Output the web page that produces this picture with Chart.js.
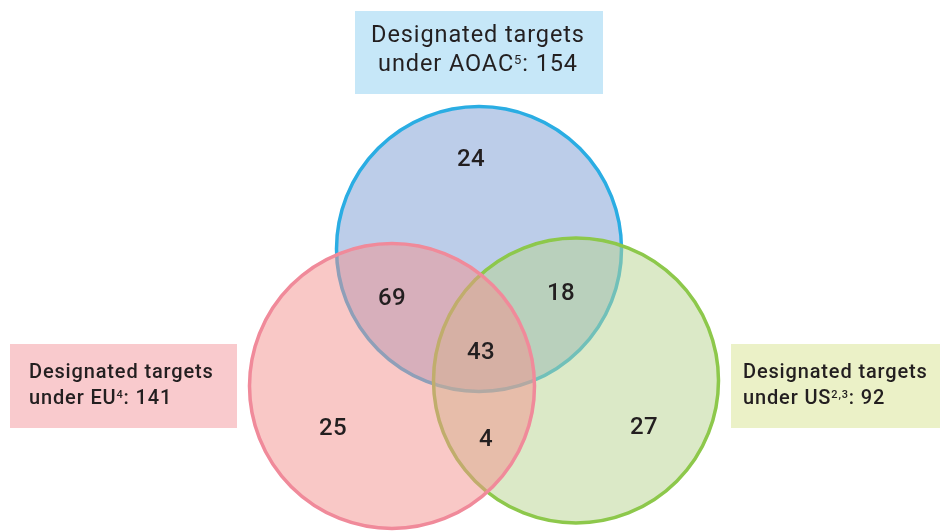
<!DOCTYPE html>
<html>
<head>
<meta charset="utf-8">
<script src="https://cdn.jsdelivr.net/npm/chart.js@4"></script>
<style>
  html, body { margin: 0; padding: 0; background: #ffffff; }
  #wrap { width: 940px; height: 532px; position: relative; }
</style>
</head>
<body>
<div id="wrap"><canvas id="c" width="940" height="532"></canvas></div>
<script>
// ---- data ----
const setNames = ['AOAC', 'EU', 'US'];
const setTotals = [154, 141, 92];
const setRefs = ['5', '4', '2,3'];
const regionNames = ['AOAC only', 'AOAC & EU', 'AOAC & US', 'All three', 'EU only', 'EU & US', 'US only'];
const regionCounts = [24, 69, 18, 43, 25, 4, 27];

// ---- layout (plot units = canvas pixels on hidden linear scales) ----
const circleCenters = { AOAC: [479, 249], EU: [392, 386], US: [576, 380.5] };
const regionLabelPos = [[471, 160], [392, 299], [561, 294], [481, 353], [333, 429], [486, 440], [644, 428]];
const boxes = {
  AOAC: { x: 355, y: 11, w: 248, h: 83, fill: '#c6e7f8', align: 'center', tx: 478, lines: [42, 71], font: '400 23.5px Roboto', sup: '400 13px Roboto', supRise: 7, spacing: '0.9px' },
  EU:   { x: 10, y: 344, w: 227, h: 84, fill: '#f9cacd', align: 'left', tx: 29, lines: [378, 404], font: '500 20px Roboto', sup: '500 11px Roboto', supRise: 6.5, spacing: '0.85px' },
  US:   { x: 731, y: 344, w: 209, h: 84, fill: '#ebf1c7', align: 'left', tx: 743, lines: [378, 404], font: '500 20px Roboto', sup: '500 11px Roboto', supRise: 6.5, spacing: '0.85px' }
};
const styles = {
  AOAC: { fill: 'rgba(121,155,211,0.5)', stroke: '#2aade3', order: 2 },
  EU:   { fill: 'rgba(243,145,141,0.5)', stroke: '#f08a9a', order: 0 },
  US:   { fill: 'rgba(183,211,143,0.5)', stroke: '#8dc84b', order: 1 }
};
const circleRadius = 142.5;

const datasets = setNames.map(n => ({
  label: n,
  data: [{ x: circleCenters[n][0], y: circleCenters[n][1] }],
  pointRadius: circleRadius,
  pointHoverRadius: circleRadius,
  backgroundColor: styles[n].fill,
  borderColor: styles[n].stroke,
  borderWidth: 3.5,
  order: styles[n].order,
  clip: false
}));

const overlayPlugin = {
  id: 'overlay',
  afterDatasetsDraw(chart) {
    const ctx = chart.ctx;
    const xs = chart.scales.x, ys = chart.scales.y;
    ctx.save();
    // region counts
    ctx.fillStyle = '#231f20';
    ctx.font = '500 24px Roboto';
    if ('letterSpacing' in ctx) ctx.letterSpacing = '0.4px';
    ctx.textAlign = 'center';
    ctx.textBaseline = 'middle';
    regionCounts.forEach((v, i) => {
      const p = regionLabelPos[i];
      ctx.fillText(String(v), xs.getPixelForValue(p[0]), ys.getPixelForValue(p[1]));
    });
    // boxes
    setNames.forEach((n, i) => {
      const b = boxes[n];
      const x0 = xs.getPixelForValue(b.x), y0 = ys.getPixelForValue(b.y);
      const x1 = xs.getPixelForValue(b.x + b.w), y1 = ys.getPixelForValue(b.y + b.h);
      ctx.fillStyle = b.fill;
      ctx.fillRect(x0, y0, x1 - x0, y1 - y0);
      ctx.fillStyle = '#231f20';
      ctx.textBaseline = 'alphabetic';
      ctx.textAlign = 'left';
      if ('letterSpacing' in ctx) ctx.letterSpacing = b.spacing;
      const txPx = xs.getPixelForValue(b.tx);
      // line 1
      ctx.font = b.font;
      const l1 = 'Designated targets';
      const w1 = ctx.measureText(l1).width;
      let lx = b.align === 'center' ? txPx - w1 / 2 : txPx;
      ctx.fillText(l1, lx, ys.getPixelForValue(b.lines[0]));
      // line 2 with superscript
      const pre = 'under ' + n;
      const post = ': ' + setTotals[i];
      ctx.font = b.font;
      const wPre = ctx.measureText(pre).width;
      const wPost = ctx.measureText(post).width;
      ctx.font = b.sup;
      const wSup = ctx.measureText(setRefs[i]).width;
      const total = wPre + wSup + wPost;
      lx = b.align === 'center' ? txPx - total / 2 : txPx;
      const by = ys.getPixelForValue(b.lines[1]);
      ctx.font = b.font;
      ctx.fillText(pre, lx, by);
      ctx.font = b.sup;
      ctx.fillText(setRefs[i], lx + wPre, by - b.supRise);
      ctx.font = b.font;
      ctx.fillText(post, lx + wPre + wSup, by);
    });
    ctx.restore();
  }
};

new Chart(document.getElementById('c'), {
  type: 'scatter',
  data: { datasets },
  options: {
    responsive: false,
    animation: false,
    events: [],
    layout: { padding: 0, autoPadding: false },
    plugins: { legend: { display: false }, tooltip: { enabled: false } },
    scales: {
      x: { type: 'linear', min: 0, max: 940, display: false },
      y: { type: 'linear', min: 0, max: 532, reverse: true, display: false }
    }
  },
  plugins: [overlayPlugin]
});
</script>
</body>
</html>
